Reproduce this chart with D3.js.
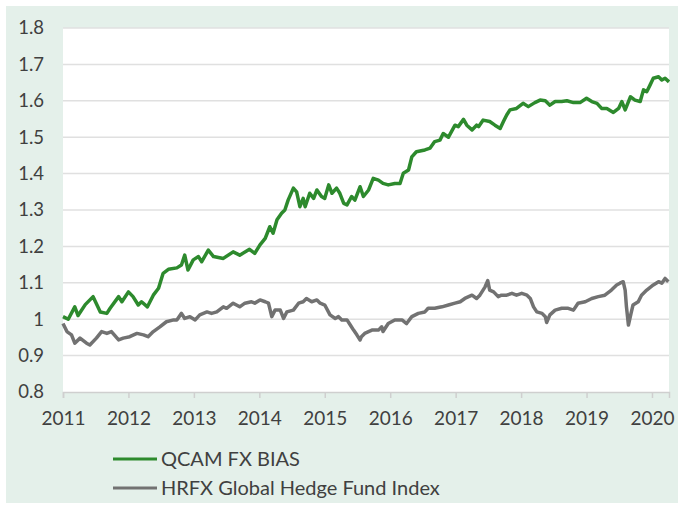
<!DOCTYPE html>
<html>
<head>
<meta charset="utf-8">
<script src="https://cdn.jsdelivr.net/npm/d3@7"></script>
<style>
  body { margin: 0; background: #fff; }
  text { font-family: Lato, "Open Sans", sans-serif; fill: #404040; }
</style>
</head>
<body>
<script>
// Series (decimal year, index value)
var qcamYears = [2011.00,2011.08,2011.18,2011.23,2011.34,2011.46,2011.57,2011.67,2011.72,2011.85,2011.90,
  2012.00,2012.07,2012.15,2012.20,2012.29,2012.38,2012.46,2012.53,2012.61,2012.74,2012.81,2012.86,2012.91,2012.99,
  2013.07,2013.12,2013.22,2013.30,2013.45,2013.60,2013.70,2013.85,2013.93,
  2014.01,2014.09,2014.16,2014.21,2014.27,2014.34,2014.39,2014.44,2014.52,2014.57,2014.62,2014.67,2014.70,2014.77,2014.83,2014.88,2014.95,
  2015.00,2015.06,2015.11,2015.18,2015.23,2015.29,2015.34,2015.41,2015.46,2015.54,2015.59,2015.67,2015.74,2015.82,2015.89,2015.97,
  2016.07,2016.15,2016.20,2016.28,2016.33,2016.40,2016.53,2016.61,2016.68,2016.76,2016.81,2016.89,2016.99,
  2017.04,2017.12,2017.17,2017.25,2017.32,2017.35,2017.42,2017.52,2017.60,2017.68,2017.73,2017.78,2017.83,2017.93,
  2018.03,2018.11,2018.21,2018.29,2018.37,2018.44,2018.52,2018.62,2018.70,2018.80,2018.90,
  2019.00,2019.08,2019.16,2019.23,2019.31,2019.41,2019.49,2019.54,2019.59,2019.67,2019.74,2019.82,2019.87,2019.92,2019.97,
  2020.02,2020.10,2020.15,2020.20,2020.26];
var qcamValues = [1.007,1.000,1.034,1.010,1.040,1.062,1.020,1.016,1.030,1.062,1.048,
  1.075,1.062,1.039,1.048,1.034,1.066,1.085,1.126,1.137,1.141,1.149,1.176,1.135,1.163,
  1.172,1.158,1.190,1.172,1.167,1.185,1.176,1.192,1.181,
  1.204,1.222,1.254,1.236,1.273,1.291,1.300,1.327,1.360,1.350,1.309,1.332,1.309,1.346,1.332,1.355,1.337,
  1.332,1.369,1.346,1.360,1.346,1.318,1.314,1.337,1.327,1.364,1.337,1.355,1.387,1.382,1.373,1.369,
  1.373,1.373,1.401,1.410,1.446,1.460,1.465,1.470,1.488,1.492,1.510,1.500,1.533,
  1.529,1.549,1.533,1.520,1.533,1.529,1.547,1.543,1.533,1.524,1.543,1.561,1.575,1.579,
  1.593,1.584,1.595,1.602,1.600,1.588,1.598,1.598,1.600,1.595,1.595,
  1.607,1.598,1.593,1.579,1.579,1.568,1.579,1.598,1.575,1.611,1.602,1.598,1.630,1.625,1.643,
  1.662,1.666,1.657,1.662,1.652];

var hrfxYears = [2011.00,2011.06,2011.13,2011.18,2011.26,2011.36,2011.41,2011.51,2011.59,2011.67,2011.74,2011.85,2011.92,
  2012.02,2012.13,2012.23,2012.30,2012.38,2012.48,2012.58,2012.69,2012.74,2012.81,2012.86,2012.94,
  2013.02,2013.09,2013.20,2013.27,2013.35,2013.45,2013.50,2013.60,2013.70,2013.78,2013.88,2013.93,
  2014.01,2014.09,2014.14,2014.19,2014.24,2014.32,2014.37,2014.42,2014.52,2014.60,2014.67,2014.72,2014.80,2014.88,2014.93,
  2015.00,2015.08,2015.16,2015.21,2015.26,2015.34,2015.39,2015.44,2015.49,2015.54,2015.56,2015.61,2015.72,2015.82,2015.87,2015.89,2015.97,
  2016.07,2016.18,2016.25,2016.33,2016.43,2016.53,2016.58,2016.68,2016.79,2016.89,2016.99,
  2017.07,2017.14,2017.25,2017.32,2017.37,2017.45,2017.49,2017.52,2017.58,2017.65,2017.70,2017.78,2017.86,2017.93,
  2018.01,2018.09,2018.14,2018.19,2018.24,2018.32,2018.37,2018.39,2018.44,2018.52,2018.62,2018.72,2018.80,2018.87,2018.98,
  2019.08,2019.18,2019.28,2019.38,2019.46,2019.51,2019.56,2019.59,2019.61,2019.64,2019.68,2019.71,2019.79,2019.84,2019.92,
  2020.02,2020.10,2020.15,2020.20,2020.25];
var hrfxValues = [0.988,0.966,0.957,0.934,0.948,0.934,0.929,0.948,0.966,0.961,0.966,0.943,0.948,
  0.952,0.961,0.957,0.952,0.966,0.979,0.993,0.998,0.998,1.016,1.002,1.007,
  0.998,1.012,1.020,1.016,1.020,1.034,1.030,1.044,1.034,1.044,1.048,1.044,
  1.053,1.048,1.044,1.007,1.025,1.025,1.002,1.020,1.025,1.044,1.048,1.057,1.048,1.053,1.044,
  1.039,1.012,1.002,1.007,0.998,0.998,0.984,0.970,0.957,0.943,0.952,0.961,0.970,0.970,0.979,0.966,0.988,
  0.998,0.998,0.988,1.007,1.016,1.020,1.030,1.030,1.034,1.039,1.044,
  1.048,1.057,1.066,1.057,1.066,1.089,1.106,1.080,1.075,1.062,1.066,1.066,1.071,1.066,
  1.071,1.066,1.057,1.034,1.020,1.016,1.007,0.991,1.012,1.025,1.030,1.030,1.025,1.044,1.048,
  1.057,1.062,1.066,1.080,1.094,1.099,1.103,1.080,1.034,0.984,1.016,1.039,1.048,1.066,1.080,
  1.094,1.103,1.099,1.112,1.103];

var yTicks = [0.8, 0.9, 1, 1.1, 1.2, 1.3, 1.4, 1.5, 1.6, 1.7, 1.8];
var xTicks = [2011, 2012, 2013, 2014, 2015, 2016, 2017, 2018, 2019, 2020];
var seriesNames = ["QCAM FX BIAS", "HRFX Global Hedge Fund Index"];
var seriesColors = ["#2d8a2d", "#727272"];

var W = 684, H = 508;
var margin = {top: 28, right: 15, bottom: 116, left: 63};
var width = W - margin.left - margin.right,
    height = H - margin.top - margin.bottom;

var svg = d3.select("body").append("svg")
    .attr("width", W)
    .attr("height", H);

// light green panel behind everything
svg.append("rect")
    .attr("x", 6).attr("y", 6)
    .attr("width", W - 12).attr("height", H - 11)
    .attr("fill", "#e4f0ea");

var g = svg.append("g")
    .attr("transform", "translate(" + margin.left + "," + margin.top + ")");

g.append("rect")
    .attr("width", width).attr("height", height)
    .attr("fill", "#fff");

var x = d3.scaleLinear().domain([2011, 2020.26]).range([0, width]);
var y = d3.scaleLinear().domain([0.8, 1.8]).range([height, 0]);

// gridlines
g.selectAll(".grid")
    .data(yTicks.slice(1))
  .enter().append("line")
    .attr("x1", 0).attr("x2", width)
    .attr("y1", function(d) { return y(d); })
    .attr("y2", function(d) { return y(d); })
    .attr("stroke", "#e0e0e0")
    .attr("stroke-width", 1.5);

// y labels
g.selectAll(".ylab")
    .data(yTicks)
  .enter().append("text")
    .attr("x", -19)
    .attr("y", function(d) { return y(d); })
    .attr("dy", "0.35em")
    .attr("text-anchor", "end")
    .style("font-size", "18.5px")
    .text(function(d) { return d3.format("")(d); });

// x axis
var xAxis = g.append("g")
    .attr("transform", "translate(0," + height + ")")
    .call(d3.axisBottom(x).tickValues(xTicks).tickFormat(d3.format("d")).tickSize(6).tickPadding(14));
xAxis.select(".domain").attr("stroke", "#cfcfcf").attr("stroke-width", 1.5);
xAxis.selectAll(".tick line").attr("stroke", "#cfcfcf").attr("stroke-width", 1.5);
xAxis.selectAll(".tick text")
    .style("font-size", "19px")
    .style("font-family", "Lato, 'Open Sans', sans-serif")
    .attr("fill", "#404040");

var line = d3.line()
    .x(function(d) { return x(d[0]); })
    .y(function(d) { return y(d[1]); });

var series = [d3.zip(qcamYears, qcamValues), d3.zip(hrfxYears, hrfxValues)];

g.selectAll(".series")
    .data(series)
  .enter().append("path")
    .attr("d", line)
    .attr("fill", "none")
    .attr("stroke", function(d, i) { return seriesColors[i]; })
    .attr("stroke-width", 3.5)
    .attr("stroke-linejoin", "round");

// legend
var legend = svg.selectAll(".legend")
    .data(seriesNames)
  .enter().append("g")
    .attr("transform", function(d, i) { return "translate(113," + (459 + i * 29) + ")"; });

legend.append("line")
    .attr("x1", 0).attr("x2", 44)
    .attr("stroke", function(d, i) { return seriesColors[i]; })
    .attr("stroke-width", 3);

legend.append("text")
    .attr("x", 48)
    .attr("dy", "0.35em")
    .style("font-size", "20px")
    .text(function(d) { return d; });
</script>
</body>
</html>
